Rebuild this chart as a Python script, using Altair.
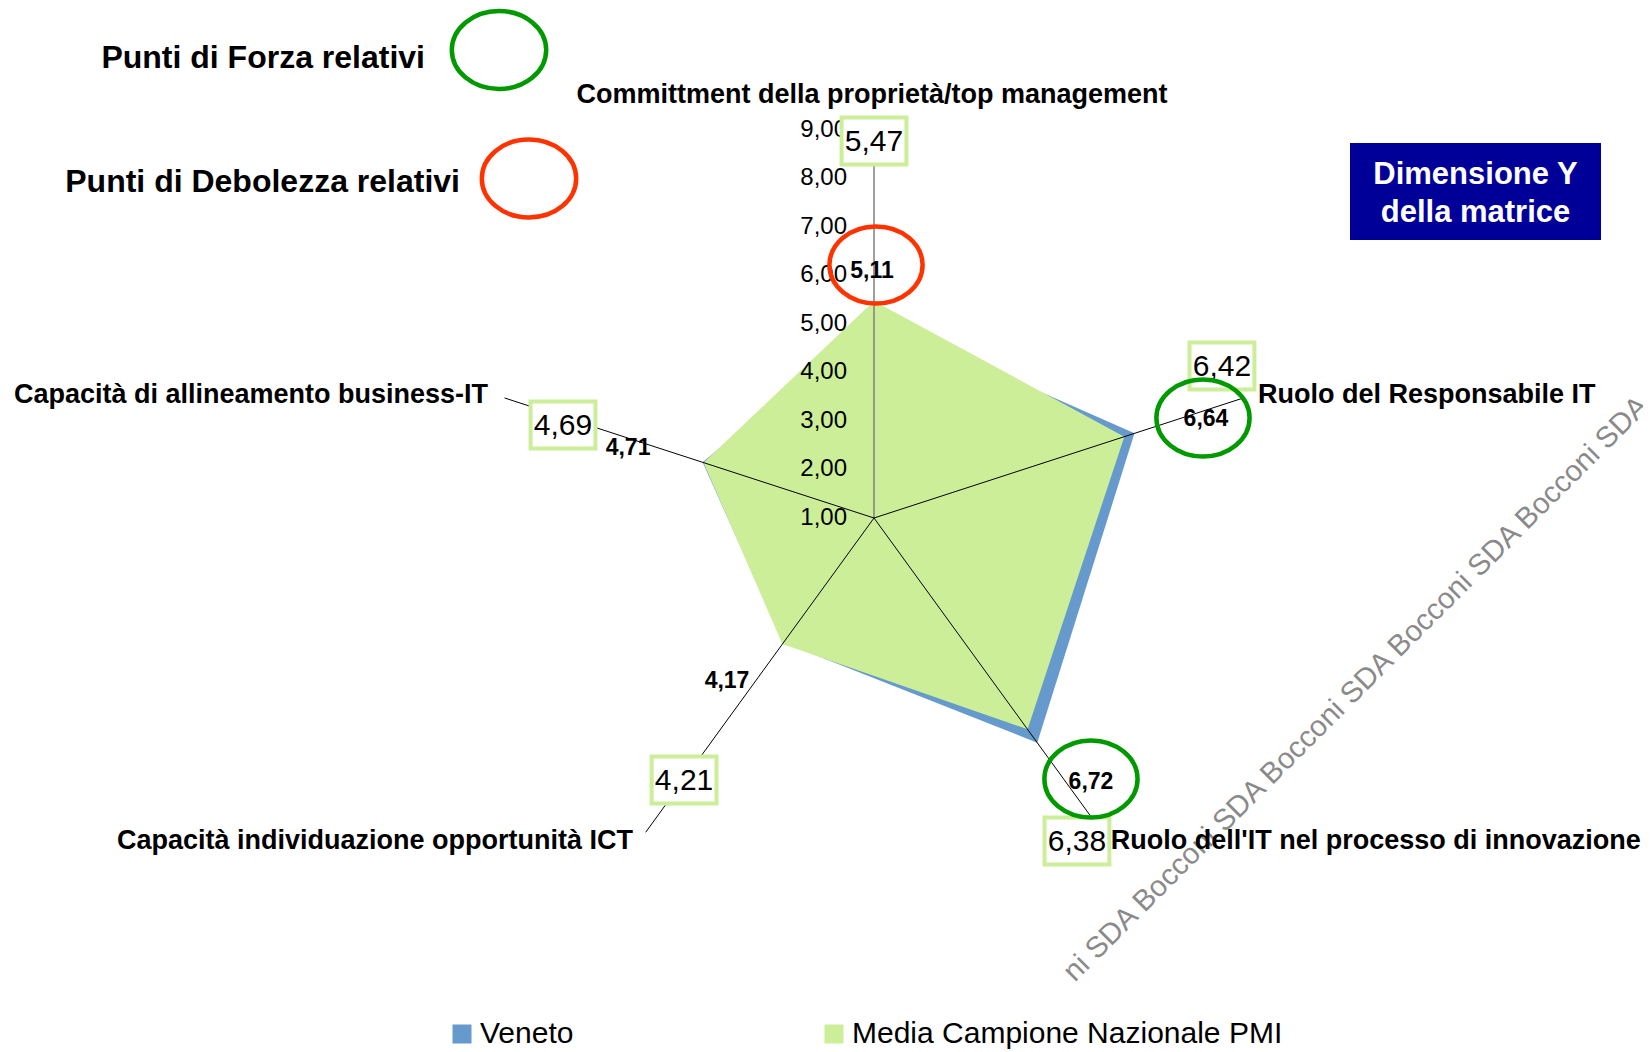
import altair as alt
import pandas as pd

# ---------------- data ----------------
CATEGORIES = [
    "Committment della proprietà/top management",
    "Ruolo del Responsabile IT",
    "Ruolo dell'IT nel processo di innovazione",
    "Capacità individuazione opportunità ICT",
    "Capacità di allineamento business-IT",
]
VENETO = [5.11, 6.64, 6.72, 4.17, 4.71]
MEDIA = [5.47, 6.42, 6.38, 4.21, 4.69]
SERIES = ["Veneto", "Media Campione Nazionale PMI"]
TICK_VALUES = [1, 2, 3, 4, 5, 6, 7, 8, 9]
TICK_LABELS = ["1,00", "2,00", "3,00", "4,00", "5,00", "6,00", "7,00", "8,00", "9,00"]
HIGHLIGHT = ["Debolezza", "Forza", "Forza", "", ""]   # relative strengths / weaknesses (Veneto)

# ---------------- layout / style ----------------
R_MIN, R_MAX = 1, 9
N = len(CATEGORIES)
W, H = 1635, 1044
CX, CY = 866, 510          # radar centre in plot pixels
UNIT = 48.56               # pixels per value unit
FONT = "Liberation Sans"
BLUE, GREEN = "#6699CC", "#CCEE99"
C_FORZA, C_DEB = "#009900", "#FF3300"

CAT_LAYOUT = [("center", -2, -35), ("left", 14.5, -3), ("left", 8.5, 9),
              ("right", -12.6, 9), ("right", -16.5, -3)]
MEDIA_OFFSETS = [(0, 11.5), (-21.5, -32), (-25.4, 8.7), (38.4, -52.3), (58.5, 27)]
VENETO_OFFSETS = [(-2, -47.4), (71.5, -14.4), (53.7, 39.3), (-56.5, 38.5), (-74.6, -14.8)]
RING_OFFSETS = [(2, -53.4), (68.5, -15.4), (53.7, 36.3), None, None]

xs = alt.Scale(domain=[-CX / UNIT, (W - CX) / UNIT], nice=False, zero=False)
ys = alt.Scale(domain=[-(H - CY) / UNIT, CY / UNIT], nice=False, zero=False)
X = alt.X("px:Q", scale=xs, axis=None)
Y = alt.Y("py:Q", scale=ys, axis=None)


def polar(ch, r_expr):
    return (ch.transform_calculate(theta=f"datum.idx * 2 * PI / {N}")
              .transform_calculate(px=f"({r_expr} - {R_MIN}) * sin(datum.theta)",
                                   py=f"({r_expr} - {R_MIN}) * cos(datum.theta)"))


def ellipse_path(a):
    k = 0.5523
    return (f"M{a},0 C{a},{k} {a*k:.4f},1 0,1 C{-a*k:.4f},1 {-a},{k} {-a},0 "
            f"C{-a},{-k} {-a*k:.4f},-1 0,-1 C{a*k:.4f},-1 {a},{-k} {a},0 Z")


RING = ellipse_path(1.21)
BOX = "M-1.38,-1 H1.38 V1 H-1.38 Z"

layers = []

# watermark
wm = pd.DataFrame({"t": ["ni SDA Bocconi SDA Bocconi SDA Bocconi SDA Bocconi SDA"]})
layers.append(alt.Chart(wm).mark_text(angle=315, align="left", baseline="middle", font=FONT,
                                      fontSize=29.5, color="#8a8a8a")
              .encode(x=alt.value(1060.5), y=alt.value(968.5), text="t:N"))

# polygons
poly_df = pd.DataFrame({
    "idx": list(range(N)) * 2,
    "series": [SERIES[0]] * N + [SERIES[1]] * N,
    "value": VENETO + MEDIA,
})
color = alt.Color("series:N", scale=alt.Scale(domain=SERIES, range=[BLUE, GREEN]),
                  legend=alt.Legend(orient="none", legendX=439, legendY=1011, direction="horizontal",
                                    title=None, symbolType="square", symbolSize=360,
                                    symbolStrokeWidth=0, labelFont=FONT, labelFontSize=30,
                                    labelColor="black", columnPadding=245, labelOffset=3,
                                    labelLimit=1000, padding=0))
for s in SERIES:
    layers.append(polar(alt.Chart(poly_df).transform_filter(alt.datum.series == s), "datum.value")
                  .mark_line(interpolate="linear-closed", filled=True, strokeWidth=0)
                  .encode(x=X, y=Y, order="idx:Q", color=color))

# axis spokes
axis_df = pd.DataFrame({"idx": list(range(N)), "category": CATEGORIES})
spokes = (alt.Chart(axis_df)
          .transform_calculate(theta=f"datum.idx * 2 * PI / {N}")
          .transform_calculate(zx="0", zy="0",
                               tx=f"{R_MAX - R_MIN} * sin(datum.theta)",
                               ty=f"{R_MAX - R_MIN} * cos(datum.theta)"))
spoke_enc = dict(x=alt.X("zx:Q", scale=xs, axis=None), y=alt.Y("zy:Q", scale=ys, axis=None),
                 x2="tx:Q", y2="ty:Q")
layers.append(spokes.transform_filter("datum.idx == 0").mark_rule(color="#7f7f7f", strokeWidth=1.5)
              .encode(**spoke_enc))
layers.append(spokes.transform_filter("datum.idx != 0").mark_rule(color="black", strokeWidth=1)
              .encode(**spoke_enc))

# tick labels on the vertical axis
tick_df = pd.DataFrame({"value": TICK_VALUES, "label": TICK_LABELS})
layers.append(alt.Chart(tick_df).transform_calculate(px="0", py=f"datum.value - {R_MIN}")
              .mark_text(align="right", baseline="middle", dx=-27, font=FONT, fontSize=24, color="black")
              .encode(x=X, y=Y, text="label:N"))

# category labels
for i, (al, dx, dy) in enumerate(CAT_LAYOUT):
    layers.append(polar(alt.Chart(axis_df).transform_filter(f"datum.idx == {i}"), f"{R_MAX}")
                  .mark_text(align=al, baseline="middle", dx=dx, dy=dy, font=FONT, fontSize=27,
                             fontWeight="bold", color="black")
                  .encode(x=X, y=Y, text="category:N"))

media_df = pd.DataFrame({"idx": list(range(N)), "value": MEDIA})
veneto_df = pd.DataFrame({"idx": list(range(N)), "value": VENETO, "hl": HIGHLIGHT})
FMT = "replace(format(datum.value, '.2f'), '.', ',')"

# Media labels (boxed, anchored at axis tips)
for i, (dx, dy) in enumerate(MEDIA_OFFSETS):
    base = polar(alt.Chart(media_df).transform_filter(f"datum.idx == {i}"), f"{R_MAX}") \
        .transform_calculate(lab=FMT)
    layers.append(base.mark_point(shape=BOX, size=47 * 47, fill="white", stroke=GREEN, strokeWidth=4,
                                  opacity=1, xOffset=dx, yOffset=dy)
                  .encode(x=X, y=Y))
    layers.append(base.mark_text(align="center", baseline="middle", dx=dx, dy=dy + 1, font=FONT,
                                 fontSize=30, color="black")
                  .encode(x=X, y=Y, text="lab:N"))

# Veneto labels (bold, anchored at data points) and highlight rings
for i, (dx, dy) in enumerate(VENETO_OFFSETS):
    base = polar(alt.Chart(veneto_df).transform_filter(f"datum.idx == {i}"), "datum.value") \
        .transform_calculate(lab=FMT)
    layers.append(base.mark_text(align="center", baseline="middle", dx=dx, dy=dy, font=FONT,
                                 fontSize=23, fontWeight="bold", color="black")
                  .encode(x=X, y=Y, text="lab:N"))
    if RING_OFFSETS[i] is not None:
        rdx, rdy = RING_OFFSETS[i]
        col = C_FORZA if HIGHLIGHT[i] == "Forza" else C_DEB
        layers.append(base.mark_point(shape=RING, size=77 * 77, filled=False, stroke=col,
                                      strokeWidth=4.5, opacity=1, xOffset=rdx, yOffset=rdy)
                      .encode(x=X, y=Y))

# key for strengths / weaknesses (top left)
key_df = pd.DataFrame({"t": ["Punti di Forza relativi"]})
layers.append(alt.Chart(key_df).mark_text(align="right", baseline="middle", font=FONT, fontSize=32,
                                          fontWeight="bold", color="black")
              .encode(x=alt.value(417), y=alt.value(50), text="t:N"))
key_df2 = pd.DataFrame({"t": ["Punti di Debolezza relativi"]})
layers.append(alt.Chart(key_df2).mark_text(align="right", baseline="middle", font=FONT, fontSize=32,
                                           fontWeight="bold", color="black")
              .encode(x=alt.value(452), y=alt.value(174), text="t:N"))
layers.append(alt.Chart(key_df).mark_point(shape=RING, size=78 * 78, filled=False, stroke=C_FORZA,
                                           strokeWidth=4.5, opacity=1)
              .encode(x=alt.value(491), y=alt.value(42)))
layers.append(alt.Chart(key_df2).mark_point(shape=RING, size=78 * 78, filled=False, stroke=C_DEB,
                                            strokeWidth=4.5, opacity=1)
              .encode(x=alt.value(521), y=alt.value(170.5)))

# "Dimensione Y della matrice" box
box_df = pd.DataFrame({"t": ["Dimensione Y\ndella matrice"]})
layers.append(alt.Chart(box_df).mark_rect(color="#000099")
              .encode(x=alt.value(1342), x2=alt.value(1593), y=alt.value(135), y2=alt.value(232)))
layers.append(alt.Chart(box_df).mark_text(align="center", baseline="middle", lineBreak="\n",
                                          lineHeight=38, font=FONT, fontSize=31, fontWeight="bold",
                                          color="white")
              .encode(x=alt.value(1467.5), y=alt.value(167), text="t:N"))

chart = (alt.layer(*layers)
         .properties(width=W, height=H, padding=0, background="white",
                     autosize=alt.AutoSizeParams(type="none"))
         .configure_view(stroke=None))

chart.save("out.html", embed_options={"renderer": "svg", "actions": False})
